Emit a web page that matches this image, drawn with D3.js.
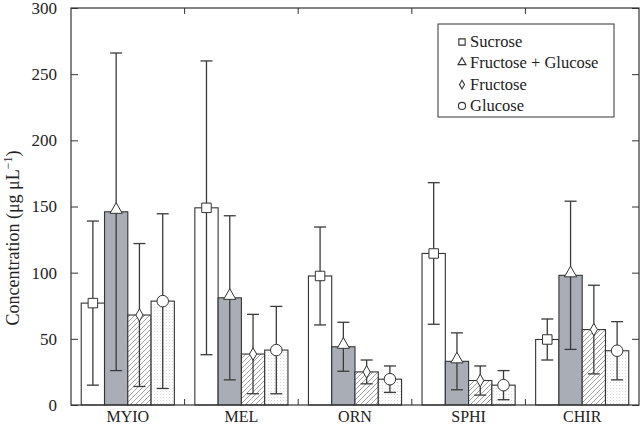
<!DOCTYPE html>
<html><head><meta charset="utf-8">
<script src="https://cdn.jsdelivr.net/npm/d3@7"></script>
<style>body{margin:0;background:#fff}svg{display:block}text{font-family:"Liberation Serif","Times New Roman",Times,"DejaVu Serif","Noto Serif",serif !important;fill:#222}</style>
</head><body><svg id="c" width="640" height="427"></svg>
<script>
const categories = ["MYIO","MEL","ORN","SPHI","CHIR"];
const seriesNames = ["Sucrose","Fructose + Glucose","Fructose","Glucose"];
const sucrose      = [77, 149, 97.5, 114.5, 49.5];
const sucroseErr   = [62, 111, 37, 53.5, 15.5];
const fructGluc    = [146, 81, 44, 33, 98];
const fructGlucErr = [120, 62, 18.5, 21.5, 56];
const fructose     = [68, 38.5, 25, 18.5, 57];
const fructoseErr  = [54, 30, 9, 11, 33.5];
const glucose      = [78.5, 41.5, 19.5, 15, 41];
const glucoseErr   = [66, 33, 10, 11, 22];
const yTicks = [0,50,100,150,200,250,300];

const values = [sucrose, fructGluc, fructose, glucose];
const errs = [sucroseErr, fructGlucErr, fructoseErr, glucoseErr];

const svg = d3.select("#c");
const m = {l:71, r:639, t:8, b:405};
const x0 = d3.scaleBand().domain(categories).range([m.l, m.r]).paddingInner(0).paddingOuter(0);
const x1 = d3.scaleBand().domain(seriesNames).range([0, x0.bandwidth()]).paddingInner(0).paddingOuter(0.44);
const y = d3.scaleLinear().domain([0,300]).range([m.b, m.t]);

const defs = svg.append("defs");
const hatch = defs.append("pattern").attr("id","hatch").attr("patternUnits","userSpaceOnUse").attr("width",5).attr("height",5);
hatch.append("rect").attr("width",5).attr("height",5).attr("fill","#fff");
hatch.append("path").attr("d","M-1,1 l2,-2 M0,5 l5,-5 M4,6 l2,-2").attr("stroke","#8a8a8a").attr("stroke-width",0.8);
const dots = defs.append("pattern").attr("id","dots").attr("patternUnits","userSpaceOnUse").attr("width",3).attr("height",3);
dots.append("rect").attr("width",3).attr("height",3).attr("fill","#fcfcfc");
dots.append("rect").attr("x",1).attr("y",1).attr("width",1).attr("height",1).attr("fill","#dcdcdc");

const fills = ["#ffffff","#a9aeb6","url(#hatch)","url(#dots)"];

seriesNames.forEach((s,si)=>{
  const g = svg.append("g");
  categories.forEach((c,ci)=>{
    const v = values[si][ci];
    g.append("rect").attr("x", x0(c)+x1(s)).attr("y", y(v))
      .attr("width", x1.bandwidth()).attr("height", y(0)-y(v))
      .attr("fill", fills[si]).attr("stroke","#333").attr("stroke-width",1.1);
  });
});

seriesNames.forEach((s,si)=>{
  categories.forEach((c,ci)=>{
    const v = values[si][ci], e = errs[si][ci];
    const cx = x0(c)+x1(s)+x1.bandwidth()/2;
    const g = svg.append("g").attr("stroke","#3a3a3a").attr("stroke-width",1.3);
    g.append("line").attr("x1",cx).attr("x2",cx).attr("y1",y(v+e)).attr("y2",y(v-e));
    g.append("line").attr("x1",cx-6).attr("x2",cx+6).attr("y1",y(v+e)).attr("y2",y(v+e));
    g.append("line").attr("x1",cx-6).attr("x2",cx+6).attr("y1",y(v-e)).attr("y2",y(v-e));
  });
});

const symTypes = [d3.symbolSquare, d3.symbolTriangle, d3.symbolDiamond, d3.symbolCircle];
const symSizes = [90, 65, 45, 105];
const legSizes = [40, 28, 22, 40];
seriesNames.forEach((s,si)=>{
  categories.forEach((c,ci)=>{
    const v = values[si][ci];
    const cx = x0(c)+x1(s)+x1.bandwidth()/2;
    let ty = y(v);
    if(si===1) ty -= 2;
    svg.append("path").attr("d", d3.symbol().type(symTypes[si]).size(symSizes[si])())
      .attr("transform",`translate(${cx},${ty})`)
      .attr("fill","#fff").attr("stroke","#333").attr("stroke-width",1);
  });
});

svg.append("rect").attr("x",m.l).attr("y",m.t).attr("width",m.r-m.l).attr("height",m.b-m.t)
  .attr("fill","none").attr("stroke","#333").attr("stroke-width",1.2);

const yl = svg.append("g").attr("transform",`translate(${m.l},0)`)
  .call(d3.axisLeft(y).tickValues(yTicks).tickSize(-7).tickPadding(14));
yl.select(".domain").remove();
yl.selectAll("line").attr("stroke","#333");
yl.selectAll("text").attr("font-size",17).attr("fill","#222");
const yr = svg.append("g").attr("transform",`translate(${m.r},0)`)
  .call(d3.axisRight(y).tickValues(yTicks).tickSize(-7).tickFormat(""));
yr.select(".domain").remove();
yr.selectAll("line").attr("stroke","#333");

const bounds = categories.slice(1).map(c=>x0(c));
bounds.forEach(bx=>{
  svg.append("line").attr("x1",bx).attr("x2",bx).attr("y1",m.b).attr("y2",m.b-6).attr("stroke","#333").attr("stroke-width",1);
  svg.append("line").attr("x1",bx).attr("x2",bx).attr("y1",m.t).attr("y2",m.t+6).attr("stroke","#333").attr("stroke-width",1);
});

const xb = svg.append("g").attr("transform",`translate(0,${m.b})`)
  .call(d3.axisBottom(x0).tickSize(0).tickPadding(6));
xb.select(".domain").remove();
xb.selectAll("text").attr("font-size",16).attr("fill","#222");

const yt = svg.append("text").attr("transform","translate(19,238) rotate(-90)")
  .attr("text-anchor","middle").attr("font-size",18);
yt.append("tspan").text("Concentration (μg μL");
yt.append("tspan").attr("font-size",12).attr("dy",-7).text("−1");
yt.append("tspan").attr("dy",7).text(")");

const lg = svg.append("g");
lg.append("rect").attr("x",438).attr("y",24).attr("width",176).attr("height",93)
  .attr("fill","#fff").attr("stroke","#333").attr("stroke-width",1);
seriesNames.forEach((s,si)=>{
  const ly = 42 + si*21.3;
  lg.append("path").attr("d", d3.symbol().type(symTypes[si]).size(legSizes[si])())
    .attr("transform",`translate(462,${ly - (si===1?1:0)})`).attr("fill","#fff").attr("stroke","#333").attr("stroke-width",1.1);
  lg.append("text").attr("x",470).attr("y",ly+5).attr("font-size",16.5).text(s);
});
</script></body></html>
